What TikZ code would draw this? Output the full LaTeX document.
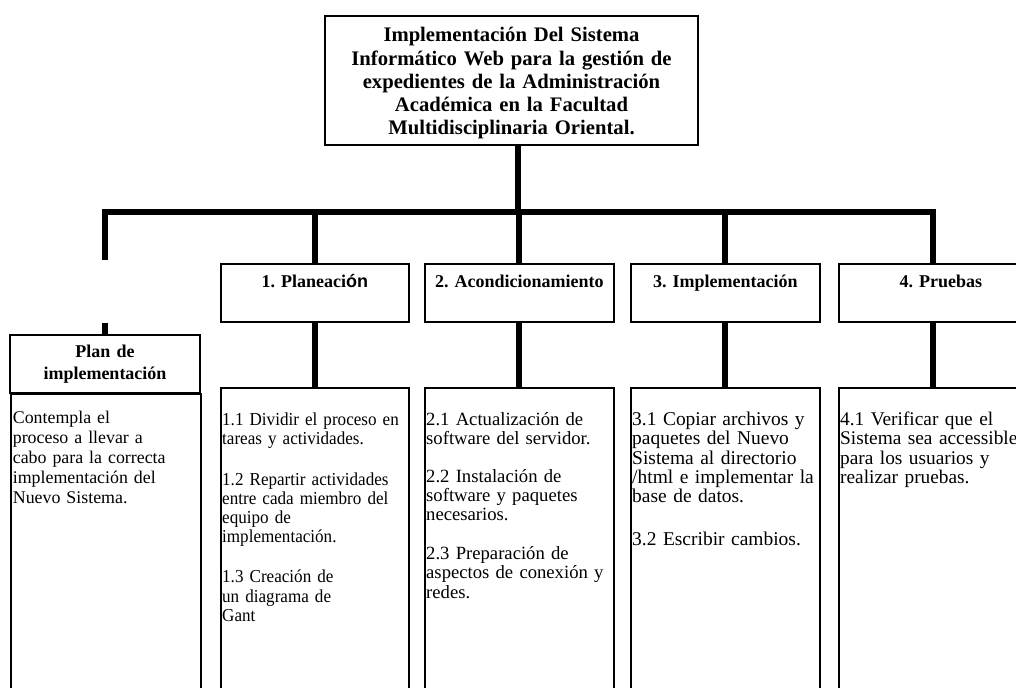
\documentclass[tikz,border=0pt]{standalone}
\usepackage{fontspec}
\setmainfont{Liberation Serif}
\newfontfamily\sansacento{Liberation Sans}
\newfontfamily\estrecha[FakeStretch=0.935]{Liberation Serif}
\usetikzlibrary{positioning}
\frenchspacing

\begin{document}
\begin{tikzpicture}[x=0.75pt,y=-0.75pt]
	\tikzset{conn/.style={line width=4.5pt}}
	\tikzset{caja/.style={draw,line width=1.3pt,inner sep=0pt}}
	\tikzset{titulo/.style={caja,anchor=north west,align=center,font=\bfseries\fontsize{13.5}{16}\selectfont,text height=18pt,text depth=25.5pt}}
	\tikzset{detalle/.style={caja,anchor=north west,align=left,inner xsep=1pt,text height=28.5pt,text depth=300pt}}
	\useasboundingbox (0,0) rectangle (1016,688);
	\clip (0,0) rectangle (1016,688);
	
	\node[caja,align=center,text width=279.75pt,text height=19.5pt,text depth=77.25pt,font=\bfseries\fontsize{15.5}{17.3}\selectfont] (T) at (511.5,80.5)
	{Implementación Del Sistema\\ Informático Web para la gestión de\\ expedientes de la Administración\\ Académica en la Facultad\\ Multidisciplinaria Oriental.};
	
	\node[caja,align=center,text width=142.5pt,minimum height=43.5pt,font=\bfseries\fontsize{13.5}{16.5}\selectfont] (P) at (105,364) {Plan de\\ implementación};
	\node[caja,anchor=north west,align=left,inner xsep=1.5pt,text width=139.5pt,font=\fontsize{13.4}{15}\selectfont,text height=22pt,text depth=300pt] (PC) at (10,393)
	{Contempla el\\ proceso a llevar a\\ cabo para la correcta\\ implementación del\\ Nuevo Sistema.};
	
	\node[titulo,text width=141pt] (H1) at (220,263) {1. Planeaci{\sansacento ón}};
	\node[titulo,text width=141.75pt] (H2) at (424,263) {2. Acondicionamiento};
	\node[titulo,text width=141.75pt] (H3) at (630,263) {3. Implementación};
	\node[titulo,text width=141pt] (H4) at (838,263) {\hspace*{12pt}4. Pruebas};
	
	\node[detalle,text width=139pt,font=\estrecha\fontsize{13.7}{14.3}\selectfont] (C1) at (220,387)
	{1.1 Dividir el proceso en\\ tareas y actividades.\\[16pt] 1.2 Repartir actividades\\ entre cada miembro del\\ equipo de\\ implementación.\\[16pt] 1.3 Creación de\\ un diagrama de\\ Gant};
	\node[detalle,text width=139.75pt,font=\fontsize{14}{14.3}\selectfont] (C2) at (424,387)
	{2.1 Actualización de\\ software del servidor.\\[14pt] 2.2 Instalación de\\ software y paquetes\\ necesarios.\\[15pt] 2.3 Preparación de\\ aspectos de conexión y\\ redes.};
	\node[detalle,text width=139.75pt,font=\fontsize{14.6}{14.3}\selectfont] (C3) at (630,387)
	{3.1 Copiar archivos y\\ paquetes del Nuevo\\ Sistema al directorio\\ /html e implementar la\\ base de datos.\\[18pt] 3.2 Escribir cambios.};
	\node[detalle,text width=139pt,font=\fontsize{14.5}{14.3}\selectfont] (C4) at (838,387)
	{4.1 Verificar que el\\ Sistema sea accessible\\ para los usuarios y\\ realizar pruebas.};
	
	%%%%%%%%%%%%%%%%%%%%%%%%%%%%%%
	
	\coordinate (hub) at (518,212);
	\coordinate (Pdrop) at (105,260);
	\coordinate (Pstub) at (105,323);
	
	\draw[conn] (T.south -| hub) -- (hub);
	\draw[conn] (Pdrop) |- (hub) -| (H4.north);
	\draw[conn] (hub -| H1.north) -- (H1.north);
	\draw[conn] (hub -| H2.north) -- (H2.north);
	\draw[conn] (hub -| H3.north) -- (H3.north);
	\draw[conn] (Pstub) -- (P.north);
	
	\draw[conn] (H1.south) -- (C1.north);
	\draw[conn] (H2.south) -- (C2.north);
	\draw[conn] (H3.south) -- (C3.north);
	\draw[conn] (H4.south) -- (C4.north);
	
\end{tikzpicture}
\end{document}
